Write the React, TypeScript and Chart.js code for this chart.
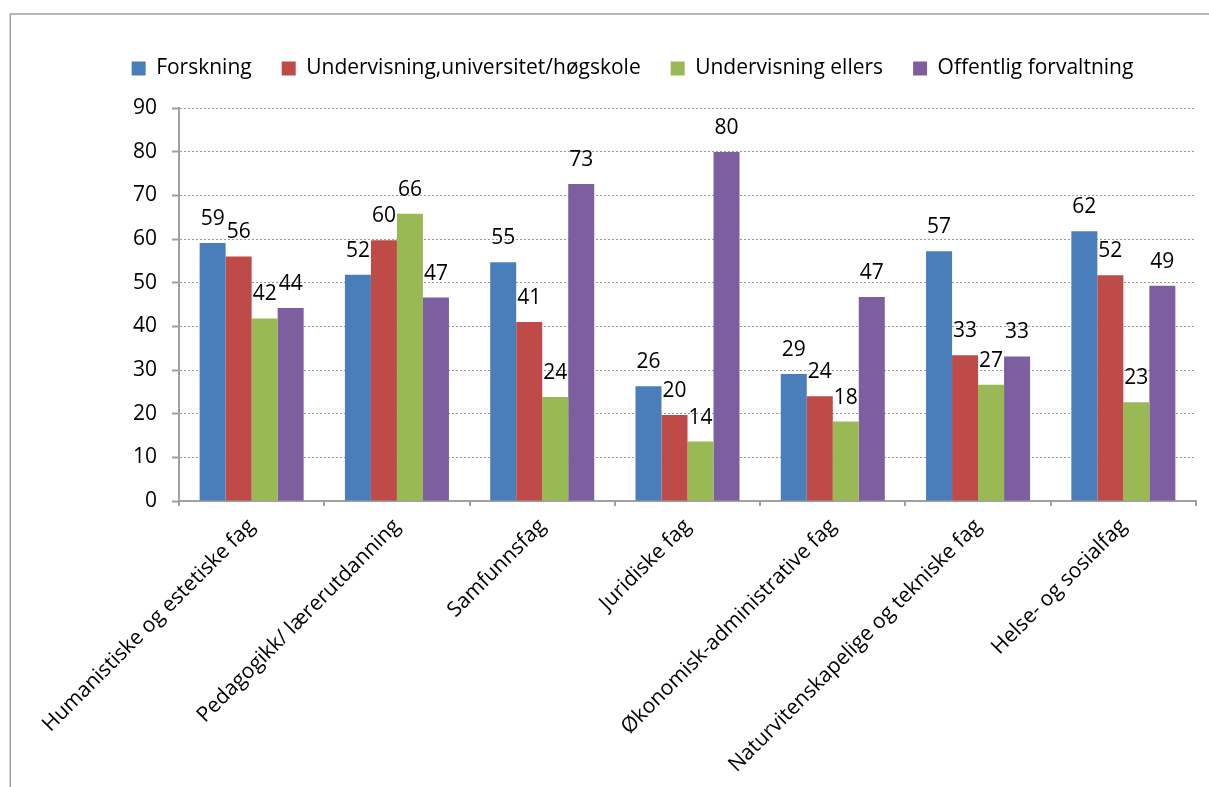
import React, { useEffect, useRef } from "react";
import { Chart, registerables } from "chart.js";

Chart.register(...registerables);

const categories = [
  "Humanistiske og estetiske fag",
  "Pedagogikk/ lærerutdanning",
  "Samfunnsfag",
  "Juridiske fag",
  "Økonomisk-administrative fag",
  "Naturvitenskapelige og tekniske fag",
  "Helse- og sosialfag",
];
const seriesNames = [
  "Forskning",
  "Undervisning,universitet/høgskole",
  "Undervisning ellers",
  "Offentlig forvaltning",
];
const forskning = [59.1, 51.8, 54.7, 26.3, 29.1, 57.2, 61.8];
const undervisningUH = [56.0, 59.7, 41.0, 19.7, 24.0, 33.4, 51.7];
const undervisningEllers = [41.8, 65.8, 23.8, 13.6, 18.2, 26.6, 22.6];
const offentligForvaltning = [44.2, 46.6, 72.6, 79.9, 46.7, 33.1, 49.3];
const seriesColors = ["#4A7EBB", "#BE4B48", "#98B954", "#7D5FA0"];
const yTicks = [0, 10, 20, 30, 40, 50, 60, 70, 80, 90];

const FONT = "'Open Sans', 'Noto Sans', sans-serif";
const W = 1201;
const H = 779;

export default function App() {
  const ref = useRef<HTMLCanvasElement | null>(null);

  useEffect(() => {
    if (!ref.current) return;
    const seriesValues = [forskning, undervisningUH, undervisningEllers, offentligForvaltning];

    const framePlugin = {
      id: "frame",
      beforeDraw(chart: any) {
        const ctx = chart.ctx;
        ctx.save();
        ctx.strokeStyle = "#A0A0A0";
        ctx.lineWidth = 1.5;
        ctx.beginPath();
        ctx.moveTo(2.25, chart.height + 5);
        ctx.lineTo(2.25, 6);
        ctx.lineTo(chart.width + 5, 6);
        ctx.stroke();
        ctx.restore();
      },
    };

    const legendSpacer = {
      id: "legendSpacer",
      afterInit(chart: any) {
        const lg = chart.legend;
        if (!lg) return;
        const orig = lg.fit.bind(lg);
        lg.fit = function () {
          orig();
          this.height += 19;
        };
      },
    };

    const valueLabels = {
      id: "valueLabels",
      afterDatasetsDraw(chart: any) {
        const ctx = chart.ctx;
        ctx.save();
        ctx.font = `21px ${FONT}`;
        ctx.fillStyle = "#000";
        ctx.textAlign = "center";
        ctx.textBaseline = "alphabetic";
        chart.data.datasets.forEach((ds: any, i: number) => {
          const meta = chart.getDatasetMeta(i);
          meta.data.forEach((bar: any, j: number) => {
            const v = ds.data[j];
            ctx.fillText(String(Math.round(v)), bar.x, bar.y - 18);
          });
        });
        ctx.restore();
      },
    };

    const chart = new Chart(ref.current, {
      type: "bar",
      data: {
        labels: categories,
        datasets: seriesNames.map((name, i) => ({
          label: name,
          data: seriesValues[i],
          backgroundColor: seriesColors[i],
          borderWidth: 0,
          categoryPercentage: 0.716,
          barPercentage: 1,
        })),
      },
      options: {
        animation: false,
        responsive: false,
        events: [],
        layout: { padding: { top: 20, left: 61, right: 13, bottom: 0 } },
        plugins: {
          tooltip: { enabled: false },
          legend: {
            position: "top",
            labels: {
              boxWidth: 14,
              boxHeight: 14,
              padding: 30,
              color: "#000",
              font: { family: FONT, size: 21 },
            },
          },
        },
        scales: {
          x: {
            afterFit(scale: any) {
              scale.height = H - 493;
            },
            grid: {
              display: true,
              drawOnChartArea: false,
              drawTicks: true,
              tickLength: 5,
              color: "#A0A0A0",
              lineWidth: 2,
              offset: true,
            },
            border: { display: true, color: "#A0A0A0", width: 2 },
            ticks: {
              color: "#000",
              font: { family: FONT, size: 21 },
              minRotation: 45,
              maxRotation: 45,
              autoSkip: false,
              padding: 8,
            },
          },
          y: {
            min: 0,
            max: 90,
            afterFit(scale: any) {
              scale.width = 110;
            },
            afterBuildTicks(scale: any) {
              scale.ticks = yTicks.map((v) => ({ value: v }));
            },
            grid: {
              color: "#9A9A9A",
              lineWidth: 1,
              tickLength: 7,
              tickColor: "#A0A0A0",
              tickWidth: 2,
              tickBorderDash: [],
            },
            border: { display: true, color: "#A0A0A0", width: 2, dash: [2, 2] },
            ticks: {
              color: "#000",
              font: { family: FONT, size: 21 },
              padding: 15,
            },
          },
        },
      },
      plugins: [framePlugin, legendSpacer, valueLabels],
    } as any);

    return () => chart.destroy();
  }, []);

  return (
    <div style={{ position: "fixed", left: 0, top: 0, width: 1209, height: 787, overflow: "hidden", background: "#fff" }}>
      <canvas
        ref={ref}
        width={W}
        height={H}
        style={{ position: "absolute", left: 8, top: 8, display: "block", width: W, height: H }}
      />
    </div>
  );
}
